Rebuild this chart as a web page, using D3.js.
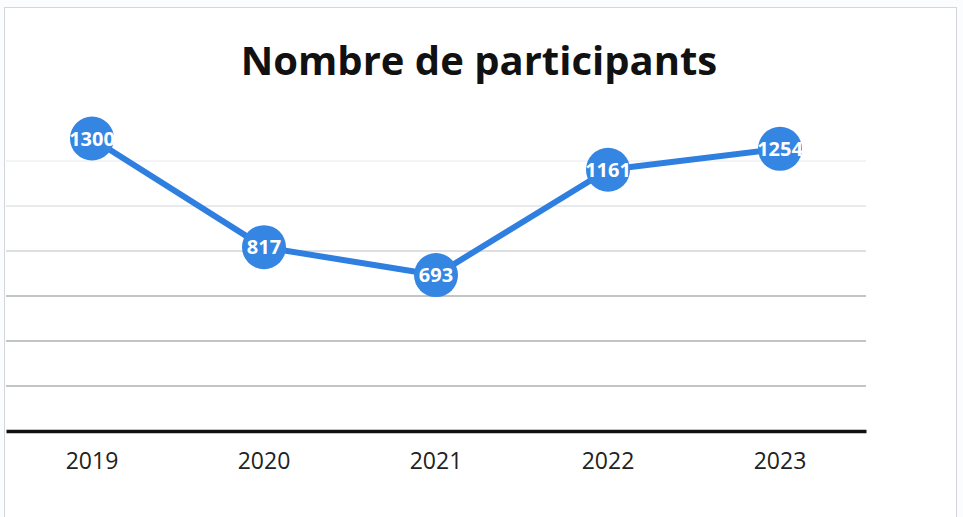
<!DOCTYPE html>
<html>
<head>
<meta charset="utf-8">
<script src="https://cdn.jsdelivr.net/npm/d3@7"></script>
<style>
  body { margin: 0; background: #fff; }
  svg { display: block; }
</style>
</head>
<body>
<script>
// data
const years = ["2019", "2020", "2021", "2022", "2023"];
const participants = [1300, 817, 693, 1161, 1254];
const gridValues = [200, 400, 600, 800, 1000, 1200];

const width = 963;
const height = 517;

const svg = d3.select("body").append("svg")
  .attr("width", width)
  .attr("height", height);

// page frame (scanned sheet)
svg.append("rect")
  .attr("x", 0).attr("y", 0)
  .attr("width", width).attr("height", height)
  .attr("fill", "#fbfcfd");

svg.append("rect")
  .attr("x", 4.5).attr("y", 7.5)
  .attr("width", 952).attr("height", 520)
  .attr("fill", "#fff")
  .attr("stroke", "#d4d6da");

const x = d3.scaleBand()
  .domain(years)
  .range([6, 866]);

const y = d3.scaleLinear()
  .domain([0, 1400])
  .range([431, 116]);

// gridlines, fading toward the top like the scan
const gridColor = d3.scaleLinear()
  .domain([600, 800, 1200])
  .range(["#aeb0b5", "#d3d5d9", "#eef0f2"])
  .clamp(true);

svg.append("g")
  .selectAll("line")
  .data(gridValues)
  .join("line")
  .attr("x1", 6).attr("x2", 866)
  .attr("y1", d => y(d)).attr("y2", d => y(d))
  .attr("stroke", d => gridColor(d))
  .attr("stroke-width", 1.3);

// x axis
const xAxis = svg.append("g")
  .attr("transform", "translate(0," + y(0) + ")")
  .call(d3.axisBottom(x).tickSize(0).tickPadding(22));

xAxis.select(".domain")
  .attr("stroke", "#111")
  .attr("stroke-width", 3.5);

xAxis.selectAll("text")
  .attr("font-family", "'Open Sans', sans-serif")
  .attr("font-size", 23)
  .attr("fill", "#222");

// title
svg.append("text")
  .attr("x", 479)
  .attr("y", 75)
  .attr("text-anchor", "middle")
  .attr("font-family", "'Open Sans', sans-serif")
  .attr("font-weight", "bold")
  .attr("font-size", 40)
  .attr("fill", "#111")
  .text("Nombre de participants");

const points = years.map((yr, i) => ({ year: yr, value: participants[i] }));
const cx = d => x(d.year) + x.bandwidth() / 2;

// line
svg.append("path")
  .datum(points)
  .attr("fill", "none")
  .attr("stroke", "#2f7fe0")
  .attr("stroke-width", 6)
  .attr("stroke-linejoin", "round")
  .attr("d", d3.line().x(cx).y(d => y(d.value)));

// markers + labels
const node = svg.append("g")
  .selectAll("g")
  .data(points)
  .join("g")
  .attr("transform", d => "translate(" + cx(d) + "," + y(d.value) + ")");

node.append("circle")
  .attr("r", 22)
  .attr("fill", "#3585e3");

node.append("text")
  .attr("text-anchor", "middle")
  .attr("dy", "0.36em")
  .attr("font-family", "'Open Sans', sans-serif")
  .attr("font-weight", "bold")
  .attr("font-size", 20)
  .attr("fill", "#fff")
  .text(d => d.value);
</script>
</body>
</html>
